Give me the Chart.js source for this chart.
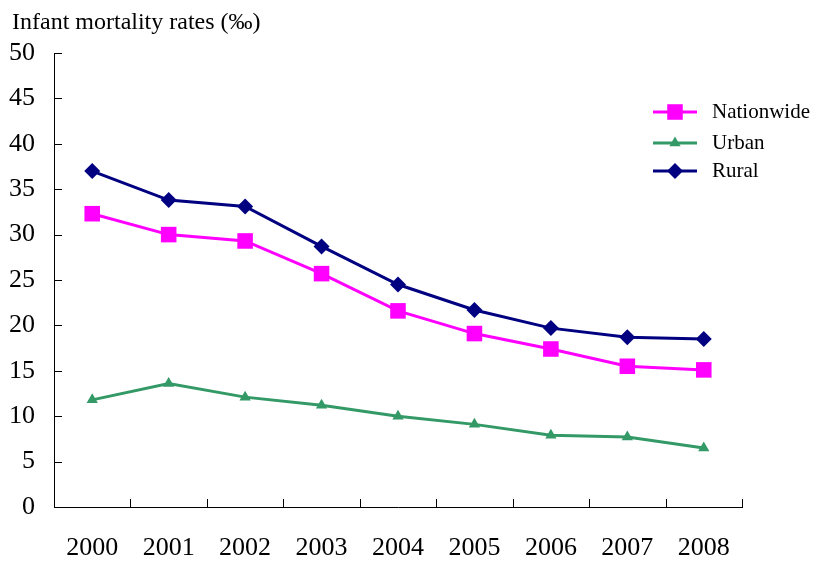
<!DOCTYPE html>
<html>
<head>
<meta charset="utf-8">
<script src="https://cdn.jsdelivr.net/npm/chart.js@4/dist/chart.umd.min.js"></script>
<style>
  html, body { margin: 0; padding: 0; background: #fff; }
  #wrap { width: 815px; height: 565px; }
</style>
</head>
<body>
<div id="wrap"><canvas id="mortality"></canvas></div>
<script>
// data
var years = ['2000', '2001', '2002', '2003', '2004', '2005', '2006', '2007', '2008'];
var nationwide = [32.3, 30.0, 29.3, 25.7, 21.6, 19.1, 17.4, 15.5, 15.1];
var urban = [11.8, 13.6, 12.1, 11.2, 10.0, 9.1, 7.9, 7.7, 6.5];
var rural = [37.0, 33.8, 33.1, 28.7, 24.5, 21.7, 19.7, 18.7, 18.5];
var yTicks = [0, 5, 10, 15, 20, 25, 30, 35, 40, 45, 50];
var titleText = 'Infant mortality rates (\u2030)';

var serif = '"Liberation Serif", "Times New Roman", serif';

function marker(ctx, style, x, y, r, color) {
  ctx.fillStyle = color;
  ctx.beginPath();
  if (style == 'rect') {
    var s = Math.SQRT1_2 * r;
    ctx.rect(x - s, y - s, 2 * s, 2 * s);
  } else if (style == 'rectRot') {
    ctx.moveTo(x - r, y); ctx.lineTo(x, y - r); ctx.lineTo(x + r, y); ctx.lineTo(x, y + r);
  } else {
    ctx.moveTo(x, y - r);
    ctx.lineTo(x + r * Math.sin(Math.PI * 2 / 3), y - r * Math.cos(Math.PI * 2 / 3));
    ctx.lineTo(x - r * Math.sin(Math.PI * 2 / 3), y - r * Math.cos(Math.PI * 2 / 3));
  }
  ctx.closePath();
  ctx.fill();
}

// title, inward tick marks and the legend
var extras = {
  id: 'extras',
  afterDraw: function(chart) {
    var ctx = chart.ctx, area = chart.chartArea;
    var xs = chart.scales.x, ys = chart.scales.y;
    ctx.save();
    ctx.fillStyle = '#000';
    ctx.font = '24px ' + serif;
    ctx.textBaseline = 'alphabetic';
    ctx.fillText(titleText, 12, 29);

    ctx.strokeStyle = '#000';
    ctx.lineWidth = 1;
    ctx.beginPath();
    for (var i = 0; i < ys.ticks.length; i++) {
      var py = Math.round(ys.getPixelForTick(i)) + 0.5;
      ctx.moveTo(area.left, py); ctx.lineTo(area.left + 8, py);
    }
    var step = xs.getPixelForValue(1) - xs.getPixelForValue(0);
    for (var j = 0; j < years.length; j++) {
      var px = Math.round(xs.getPixelForValue(j) + step / 2) + 0.5;
      ctx.moveTo(px, area.bottom); ctx.lineTo(px, area.bottom - 8);
    }
    ctx.stroke();

    var lx = area.right - 89, rows = [112, 143, 171];
    chart.data.datasets.forEach(function(ds, k) {
      var y = rows[k];
      ctx.strokeStyle = ds.borderColor;
      ctx.lineWidth = 3;
      ctx.beginPath(); ctx.moveTo(lx, y); ctx.lineTo(lx + 44, y); ctx.stroke();
      marker(ctx, ds.pointStyle, lx + 22, y, ds.pointRadius, ds.borderColor);
      ctx.fillStyle = '#000';
      ctx.font = '21px ' + serif;
      ctx.textBaseline = 'middle';
      ctx.fillText(ds.label, lx + 59, y);
    });
    ctx.restore();
  }
};

new Chart(document.getElementById('mortality'), {
  type: 'line',
  data: {
    labels: years,
    datasets: [
      { label: 'Nationwide', data: nationwide, borderColor: '#FF00FF', backgroundColor: '#FF00FF',
        borderWidth: 3, pointStyle: 'rect', pointRadius: 11, pointBorderWidth: 0, tension: 0 },
      { label: 'Urban', data: urban, borderColor: '#339966', backgroundColor: '#339966',
        borderWidth: 3, pointStyle: 'triangle', pointRadius: 6.5, pointBorderWidth: 0, tension: 0 },
      { label: 'Rural', data: rural, borderColor: '#000080', backgroundColor: '#000080',
        borderWidth: 3, pointStyle: 'rectRot', pointRadius: 8, pointBorderWidth: 0, tension: 0 }
    ]
  },
  options: {
    responsive: true,
    maintainAspectRatio: false,
    animation: false,
    events: [],
    layout: { padding: { left: 0, top: 53, right: 73, bottom: 0 } },
    plugins: { legend: { display: false }, title: { display: false }, tooltip: { enabled: false } },
    scales: {
      x: {
        offset: true,
        grid: { display: false, drawTicks: false },
        border: { display: true, color: '#000', width: 1 },
        ticks: { color: '#000', font: { family: serif, size: 26 }, padding: 26, maxRotation: 0 },
        afterFit: function(s) { s.height = 58; }
      },
      y: {
        min: 0, max: 50,
        afterBuildTicks: function(s) { s.ticks = yTicks.map(function(v) { return { value: v }; }); },
        grid: { display: false, drawTicks: false },
        border: { display: true, color: '#000', width: 1 },
        ticks: { color: '#000', font: { family: serif, size: 26 }, padding: 19 },
        afterFit: function(s) { s.width = 54; }
      }
    }
  },
  plugins: [extras]
});
</script>
</body>
</html>
